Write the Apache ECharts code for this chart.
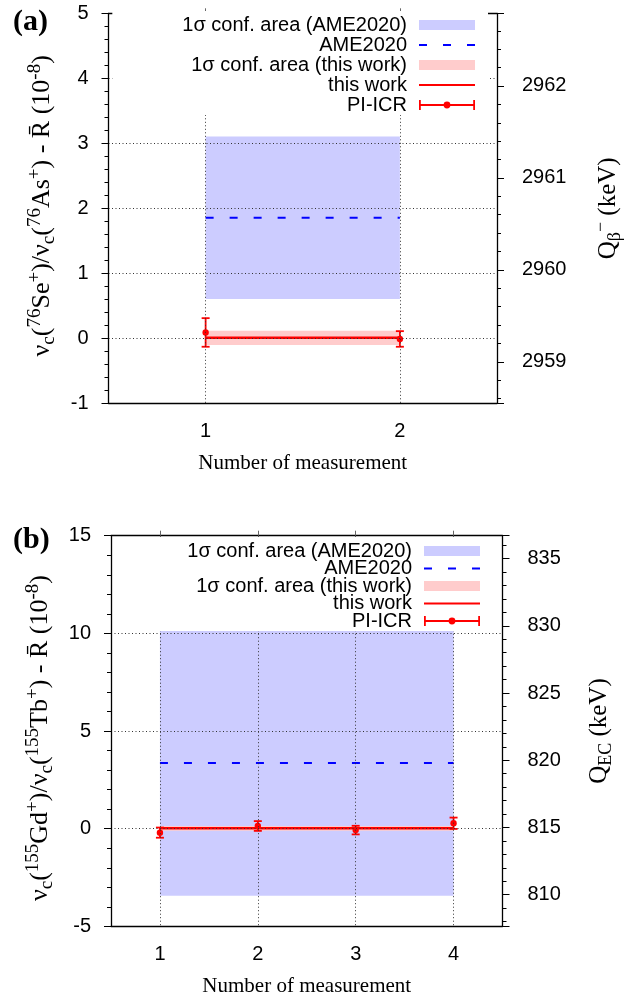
<!DOCTYPE html>
<html>
<head>
<meta charset="utf-8">
<script src="https://cdn.jsdelivr.net/npm/echarts@6/dist/echarts.min.js"></script>
<style>
html,body{margin:0;padding:0;background:#fff;}
#chart{width:643px;height:1002px;}
</style>
</head>
<body>
<div id="chart"></div>
<script>
// ---------- data: panel (a) 76Se / 76As ----------
const measA = [1, 2];
const piicrA = [0.09, -0.01];
const piicrErrA = [0.22, 0.12];
const thisWorkA = [0.007, 0.11];   // value, 1 sigma
const ameA = [1.855, 1.25];        // value, 1 sigma
const xRangeA = [0.5, 2.5];
const yRangeA = [-1, 5, 1];        // min, max, interval
const qRangeA = [2958.55, 2962.79];

// ---------- data: panel (b) 155Gd / 155Tb ----------
const measB = [1, 2, 3, 4];
const piicrB = [-0.2, 0.14, -0.07, 0.28];
const piicrErrB = [0.26, 0.25, 0.22, 0.29];
const thisWorkB = [0.02, 0.12];
const ameB = [3.37, 6.8];
const xRangeB = [0.5, 4.5];
const yRangeB = [-5, 15, 5];
const qRangeB = [807.64, 836.7];

const legendNames = ['1σ conf. area (AME2020)', 'AME2020', '1σ conf. area (this work)', 'this work', 'PI-ICR'];

const SANS = 'Liberation Sans, Arial, sans-serif';
const SERIF = 'Liberation Serif, Times New Roman, serif';
const BLUE_BAND = '#ccccff';
const RED_BAND = '#ffcccc';

const chart = echarts.init(document.getElementById('chart'), null, {renderer: 'canvas'});

function richFor(main, small, lh) {
  return {
    n: {fontFamily: SERIF, fontSize: main, lineHeight: lh, color: '#000'},
    sup: {fontFamily: SERIF, fontSize: small, lineHeight: small, verticalAlign: 'top', color: '#000'},
    sub: {fontFamily: SERIF, fontSize: small, lineHeight: small, verticalAlign: 'bottom', color: '#000'}
  };
}
const richLeft = richFor(26, 19, 33);
const richRight = richFor(25, 18, 32);

const gridLine = {show: true, lineStyle: {color: '#333', width: 1, type: [1, 2.5]}};
const axisLine = {show: true, onZero: false, lineStyle: {color: '#000', width: 1.3}};

function renderBand(params, api) {
  const a = api.coord([api.value(0), api.value(3)]);
  const b = api.coord([api.value(1), api.value(2)]);
  return {type: 'rect', shape: {x: a[0], y: a[1], width: b[0] - a[0], height: b[1] - a[1]},
          style: {fill: api.visual('color')}};
}
function renderErr(params, api) {
  const x = api.value(0), y = api.value(1), e = api.value(2);
  const c = api.coord([x, y]), t = api.coord([x, y + e]), b = api.coord([x, y - e]);
  const st = {stroke: '#ff0000', lineWidth: 1.8};
  return {type: 'group', children: [
    {type: 'line', shape: {x1: c[0], y1: t[1], x2: c[0], y2: b[1]}, style: st},
    {type: 'line', shape: {x1: c[0] - 4, y1: t[1], x2: c[0] + 4, y2: t[1]}, style: st},
    {type: 'line', shape: {x1: c[0] - 4, y1: b[1], x2: c[0] + 4, y2: b[1]}, style: st},
    {type: 'circle', shape: {cx: c[0], cy: c[1], r: 3.2}, style: {fill: '#ff0000'}}
  ]};
}

function panelSeries(idx, meas, piicr, piicrErr, thisWork, ame) {
  const x0 = meas[0], x1 = meas[meas.length - 1];
  const ax = {xAxisIndex: idx * 2, yAxisIndex: idx * 2};
  return [
    Object.assign({type: 'custom', name: legendNames[0], renderItem: renderBand, z: 1,
      itemStyle: {color: BLUE_BAND},
      data: [[x0, x1, ame[0] - ame[1], ame[0] + ame[1]]]}, ax),
    Object.assign({type: 'custom', name: legendNames[2], renderItem: renderBand, z: 1,
      itemStyle: {color: RED_BAND},
      data: [[x0, x1, thisWork[0] - thisWork[1], thisWork[0] + thisWork[1]]]}, ax),
    Object.assign({type: 'line', name: legendNames[1], symbol: 'none', z: 2,
      itemStyle: {color: '#0000ff'},
      lineStyle: {color: '#0000ff', width: 2, type: [8, 16]},
      data: [[x0, ame[0]], [x1, ame[0]]]}, ax),
    Object.assign({type: 'line', name: legendNames[3], symbol: 'none', z: 2,
      itemStyle: {color: '#ff0000'},
      lineStyle: {color: '#ff0000', width: 2.5},
      data: [[x0, thisWork[0]], [x1, thisWork[0]]]}, ax),
    Object.assign({type: 'custom', name: legendNames[4], renderItem: renderErr, z: 3,
      itemStyle: {color: '#ff0000'},
      data: meas.map((m, i) => [m, piicr[i], piicrErr[i]])}, ax)
  ];
}

function xAxes(grid, range, meas) {
  return [
    {type: 'value', gridIndex: grid, min: range[0], max: range[1], position: 'bottom', z: 4,
     axisLine: axisLine, axisTick: {show: false, customValues: meas},
     axisLabel: {customValues: meas, margin: 18, fontFamily: SANS, fontSize: 20, color: '#000'},
     splitLine: gridLine,
     name: 'Number of measurement', nameLocation: 'middle', nameGap: 50,
     nameTextStyle: {fontFamily: SERIF, fontSize: 21, color: '#000'}},
    {type: 'value', gridIndex: grid, min: range[0], max: range[1], position: 'top', z: 4,
     axisLine: axisLine,
     axisTick: {show: true, inside: false, length: 5, customValues: meas, lineStyle: {color: '#666', width: 1}},
     axisLabel: {show: false}, splitLine: {show: false}}
  ];
}

function yAxes(grid, range, qRange, nameL, gapL, padL, nameR, gapR) {
  return [
    {type: 'value', gridIndex: grid, min: range[0], max: range[1], interval: range[2], position: 'left', z: 4,
     axisLine: axisLine, axisTick: {show: true, inside: false, length: 7, lineStyle: {color: '#000'}},
     minorTick: {show: true, splitNumber: 5, length: 4, lineStyle: {color: '#000'}},
     axisLabel: {margin: 20, fontFamily: SANS, fontSize: 20, color: '#000'},
     splitLine: gridLine,
     name: nameL, nameLocation: 'middle', nameGap: gapL, nameRotate: 90,
     nameTextStyle: {rich: richLeft, padding: padL}},
    {type: 'value', gridIndex: grid, min: qRange[0], max: qRange[1], position: 'right', z: 4,
     axisLine: axisLine, axisTick: {show: true, inside: false, length: 7, lineStyle: {color: '#000'}},
     minorTick: {show: true, splitNumber: 5, length: 4, lineStyle: {color: '#000'}},
     axisLabel: {margin: 25, fontFamily: SANS, fontSize: 20, color: '#000',
                 showMinLabel: false, showMaxLabel: false, formatter: v => String(v)},
     splitLine: {show: false},
     name: nameR, nameLocation: 'middle', nameGap: gapR, nameRotate: 90,
     nameTextStyle: {rich: richRight}}
  ];
}

function legendFor(right, top, gap, padding) {
  return {
    orient: 'vertical', align: 'right', right: right, top: top, padding: padding,
    itemGap: gap, itemWidth: 56, itemHeight: 10, backgroundColor: '#ffffff', z: 10,
    selectedMode: false,
    textStyle: {fontFamily: SANS, fontSize: 20, color: '#000', padding: [0, 7, 0, 0]},
    data: [
      {name: legendNames[0], icon: 'rect', itemStyle: {color: BLUE_BAND}},
      {name: legendNames[1], itemStyle: {opacity: 0}},
      {name: legendNames[2], icon: 'rect', itemStyle: {color: RED_BAND}},
      {name: legendNames[3], itemStyle: {opacity: 0}},
      {name: legendNames[4], icon: 'path://M0,0H1.8V10H0Z M54.2,0H56V10H54.2Z M0,4H56V6H0Z M28,1.6A3.4,3.4 0 1 1 27.99,1.6Z'}
    ]
  };
}

const nameLA = '{n|ν}{sub|c}{n|(}{sup|76}{n|Se}{sup|+}{n|)/ν}{sub|c}{n|(}{sup|76}{n|As}{sup|+}{n|) - R\u0304 (10}{sup|-8}{n|)}';
const nameLB = '{n|ν}{sub|c}{n|(}{sup|155}{n|Gd}{sup|+}{n|)/ν}{sub|c}{n|(}{sup|155}{n|Tb}{sup|+}{n|) - R\u0304 (10}{sup|-8}{n|)}';
const nameRA = '{n|Q}{sub|β}{sup|−}{n| (keV)}';
const nameRB = '{n|Q}{sub|EC}{n| (keV)}';

const option = {
  backgroundColor: '#ffffff',
  animation: false,
  title: [
    {text: '(a)', left: 8, top: 2, textStyle: {fontFamily: SERIF, fontWeight: 'bold', fontSize: 30, color: '#000'}},
    {text: '(b)', left: 8, top: 520, textStyle: {fontFamily: SERIF, fontWeight: 'bold', fontSize: 30, color: '#000'}}
  ],
  grid: [
    {left: 108.5, top: 13.3, width: 388.5, height: 390, containLabel: false, outerBoundsMode: 'none'},
    {left: 111, top: 535.7, width: 391.5, height: 390.7, containLabel: false, outerBoundsMode: 'none'}
  ],
  legend: [
    legendFor(155, 11, 0, [4, 12, 0, 70]),
    legendFor(150, 537, -2.5, [4, 12, 0, 72])
  ],
  xAxis: [].concat(xAxes(0, xRangeA, measA), xAxes(1, xRangeB, measB)),
  yAxis: [].concat(
    yAxes(0, yRangeA, qRangeA, nameLA, 49.5, [0, 0, 0, 5], nameRA, 95),
    yAxes(1, yRangeB, qRangeB, nameLB, 54.5, [0, 14, 0, 0], nameRB, 81)
  ),
  series: [].concat(
    panelSeries(0, measA, piicrA, piicrErrA, thisWorkA, ameA),
    panelSeries(1, measB, piicrB, piicrErrB, thisWorkB, ameB)
  )
};
chart.setOption(option);
</script>
</body>
</html>
